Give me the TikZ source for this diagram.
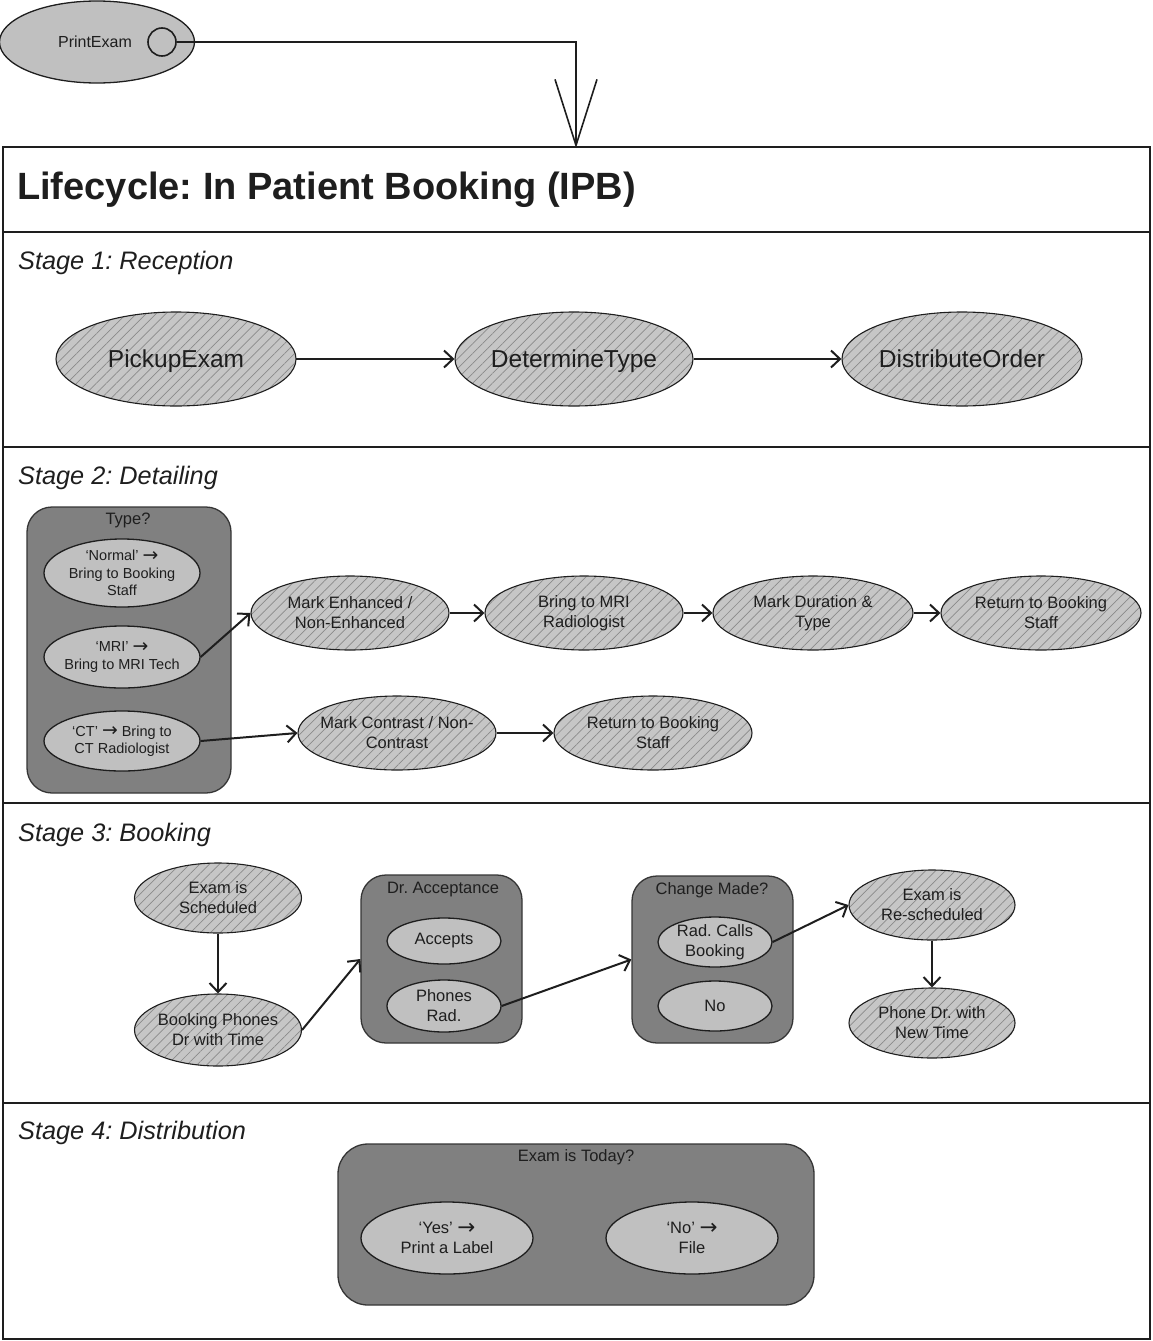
\documentclass[tikz,border=0pt]{standalone}
\usepackage{fontspec}
\setmainfont{Liberation Sans}
\newfontfamily\arrowfont{DejaVu Sans}
\usetikzlibrary{arrows.meta,patterns.meta,shapes.geometric}
\definecolor{ink}{HTML}{1E1E1E}
\definecolor{lightfill}{HTML}{C0C0C0}
\definecolor{hatchbase}{HTML}{C6C6C6}
\definecolor{hatchline}{HTML}{8A8A8A}
\definecolor{boxfill}{HTML}{808080}
\newcommand{\fs}[2]{\fontsize{#1}{#2}\selectfont}
\newcommand{\rarr}{{\arrowfont\raisebox{-0.12ex}{\scalebox{1.3}{→}}}}
\frenchspacing
\tikzset{
  txt/.style={text=ink, align=center, inner sep=0pt, font=\fs{16.5}{20}},
  smalltxt/.style={text=ink, align=center, inner sep=0pt, font=\fs{14.5}{17.5}},
  bigtxt/.style={text=ink, inner sep=0pt, font=\fs{24.5}{28},
    text height=17.6pt, text depth=0pt},
  stagetxt/.style={text=ink, anchor=west, inner sep=0pt, font=\fs{25.3}{30}\itshape},
  hatchell/.style={ellipse, draw=ink, line width=1.1pt, inner sep=0pt,
    preaction={fill=hatchbase},
    pattern={Lines[angle=45,distance=7pt,line width=0.7pt]}, pattern color=hatchline},
  lightell/.style={ellipse, draw=ink, line width=1.3pt, fill=lightfill, inner sep=0pt},
  darkbox/.style={rectangle, rounded corners=25pt, draw=ink!90, line width=1.3pt,
    fill=boxfill, inner sep=0pt},
  flow/.style={draw=ink, line width=2pt,
    -{Straight Barb[length=9pt,width=17pt,line width=2pt]}},
}
\begin{document}
\begin{tikzpicture}[x=1pt,y=-1pt]
\useasboundingbox (0,0) rectangle (1152,1341);

% ---- provided interface ----
\node[lightell, minimum width=195, minimum height=82,
  label={[txt, xshift=-2pt, font=\fs{16}{19}]center:PrintExam}] (pe) at (97,42) {};
\node[circle, draw=ink, line width=1.6pt, minimum size=28, inner sep=0pt] (port) at (162,42) {};
\coordinate (tip) at (576,148);
\draw[draw=ink, line width=1.6pt,
  -{Straight Barb[length=66pt,width=42pt,line width=1.6pt]}] (port.east) -| (tip);

% ---- lifecycle frame ----
\draw[ink, line width=2pt] (3,147) rectangle (1150,1339);
\foreach \yy in {232,447,803,1103} \draw[ink, line width=2pt] (3,\yy) -- (1150,\yy);
\node[text=ink, anchor=west, inner sep=0pt, font=\fs{38}{42}\bfseries] (title) at (17,190)
  {Lifecycle: In Patient Booking (IPB)};

% ---- stage 1 ----
\node[stagetxt] (s1) at (18,263) {Stage 1: Reception};
\node[hatchell, minimum width=240, minimum height=94, label={[bigtxt]center:PickupExam}] (pick) at (176,359) {};
\node[hatchell, minimum width=238, minimum height=94, label={[bigtxt]center:DetermineType}] (det) at (574,359) {};
\node[hatchell, minimum width=240, minimum height=94, label={[bigtxt]center:DistributeOrder}] (dist) at (962,359) {};
\draw[flow] (pick.east) -- (det.west);
\draw[flow] (det.east) -- (dist.west);

% ---- stage 2 ----
\node[stagetxt] (s2) at (18,478) {Stage 2: Detailing};
\node[darkbox, minimum width=204, minimum height=286] (typebox) at (129,650) {};
\node[txt] (typet) at (128,520) {Type?};
\node[lightell, minimum width=156, minimum height=68,
  label={[smalltxt]center:{‘Normal’ \rarr\\Bring to Booking\\Staff}}] (normal) at (122,573) {};
\node[lightell, minimum width=156, minimum height=62,
  label={[smalltxt]center:{‘MRI’ \rarr\\Bring to MRI Tech}}] (mri) at (122,657) {};
\node[lightell, minimum width=156, minimum height=60,
  label={[smalltxt]center:{‘CT’ \rarr{} Bring to\\CT Radiologist}}] (ct) at (122,741) {};

\node[hatchell, minimum width=198, minimum height=74,
  label={[txt]center:{Mark Enhanced /\\Non-Enhanced}}] (enh) at (350,613) {};
\node[hatchell, minimum width=198, minimum height=74,
  label={[txt]center:{Bring to MRI\\Radiologist}}] (mrirad) at (584,613) {};
\node[hatchell, minimum width=200, minimum height=74,
  label={[txt]center:{Mark Duration \&\\Type}}] (dur) at (813,613) {};
\node[hatchell, minimum width=200, minimum height=74,
  label={[txt]center:{Return to Booking\\Staff}}] (ret1) at (1041,613) {};
\node[hatchell, minimum width=198, minimum height=74,
  label={[txt]center:{Mark Contrast / Non-\\Contrast}}] (contr) at (397,733) {};
\node[hatchell, minimum width=198, minimum height=74,
  label={[txt]center:{Return to Booking\\Staff}}] (ret2) at (653,733) {};
\draw[flow] (mri.east) -- (enh.west);
\draw[flow] (enh.east) -- (mrirad.west);
\draw[flow] (mrirad.east) -- (dur.west);
\draw[flow] (dur.east) -- (ret1.west);
\draw[flow] (ct.east) -- (contr.west);
\draw[flow] (contr.east) -- (ret2.west);

% ---- stage 3 ----
\node[stagetxt] (s3) at (18,835) {Stage 3: Booking};
\node[hatchell, minimum width=167, minimum height=70,
  label={[txt]center:{Exam is\\Scheduled}}] (sched) at (218,898) {};
\node[hatchell, minimum width=167, minimum height=72,
  label={[txt]center:{Booking Phones\\Dr with Time}}] (bphone) at (218,1030) {};
\node[darkbox, minimum width=161, minimum height=168] (accbox) at (441.5,959) {};
\node[txt] (acct) at (443,890) {Dr. Acceptance};
\node[lightell, minimum width=114, minimum height=46, label={[txt]center:Accepts}] (acc) at (444,941) {};
\node[lightell, minimum width=114, minimum height=52,
  label={[txt]center:{Phones\\Rad.}}] (prad) at (444,1006) {};
\node[darkbox, minimum width=161, minimum height=167] (chbox) at (712.5,959.5) {};
\node[txt] (cht) at (712,890) {Change Made?};
\node[lightell, minimum width=114, minimum height=50,
  label={[txt]center:{Rad. Calls\\Booking}}] (rcb) at (715,942) {};
\node[lightell, minimum width=114, minimum height=50, label={[txt]center:No}] (nochg) at (715,1006) {};
\node[hatchell, minimum width=166, minimum height=70,
  label={[txt]center:{Exam is\\Re-scheduled}}] (resch) at (932,905) {};
\node[hatchell, minimum width=166, minimum height=70,
  label={[txt]center:{Phone Dr. with\\New Time}}] (phdr) at (932,1023) {};
\draw[flow] (sched.south) -- (bphone.north);
\draw[flow] (bphone.east) -- (accbox.west);
\draw[flow] (prad.east) -- (chbox.west);
\draw[flow] (rcb.east) -- (resch.west);
\draw[flow] (resch.south) -- (phdr.north);

% ---- stage 4 ----
\node[stagetxt] (s4) at (18,1133) {Stage 4: Distribution};
\node[darkbox, rounded corners=30pt, minimum width=476, minimum height=161] (today) at (576,1224.5) {};
\node[txt] (todayt) at (576,1157) {Exam is Today?};
\node[lightell, minimum width=172, minimum height=72,
  label={[txt]center:{‘Yes’ \rarr\\Print a Label}}] (yes) at (447,1238) {};
\node[lightell, minimum width=172, minimum height=72,
  label={[txt]center:{‘No’ \rarr\\File}}] (nofile) at (692,1238) {};
\end{tikzpicture}
\end{document}
